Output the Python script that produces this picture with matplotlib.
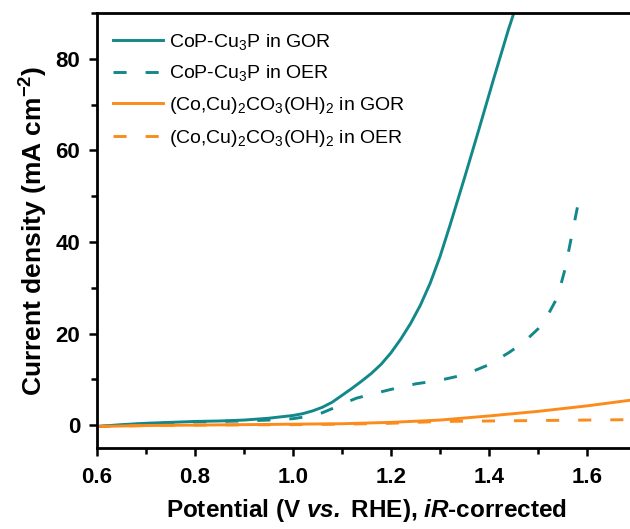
import numpy as np
import matplotlib
matplotlib.use("Agg")
import matplotlib.pyplot as plt
from matplotlib.ticker import MultipleLocator, FormatStrFormatter

plt.rcParams["font.family"] = ["Liberation Sans", "DejaVu Sans"]
plt.rcParams["font.weight"] = "bold"
plt.rcParams["xtick.labelsize"] = 16
plt.rcParams["ytick.labelsize"] = 16
plt.rcParams["mathtext.fontset"] = "custom"
plt.rcParams["mathtext.rm"] = "Liberation Sans"
plt.rcParams["mathtext.it"] = "Liberation Sans:italic"
plt.rcParams["mathtext.bf"] = "Liberation Sans:bold"
plt.rcParams["mathtext.bfit"] = "Liberation Sans:italic:bold"
plt.rcParams["mathtext.default"] = "regular"

# CoP-Cu3P in GOR
cop_gor_x = [0.60, 0.65, 0.70, 0.75, 0.80, 0.85, 0.90, 0.95, 1.00, 1.02, 1.04, 1.06,
             1.08, 1.10, 1.12, 1.14, 1.16, 1.18, 1.20, 1.22, 1.24, 1.26, 1.28, 1.30,
             1.32, 1.35, 1.38, 1.41, 1.44, 1.46]
cop_gor_y = [-0.3, 0.1, 0.4, 0.6, 0.8, 0.9, 1.1, 1.5, 2.1, 2.5, 3.1, 3.9,
             5.0, 6.5, 8.0, 9.6, 11.3, 13.3, 15.8, 18.8, 22.2, 26.2, 31.0, 36.8,
             43.5, 54.0, 64.8, 75.8, 86.5, 93.0]

# CoP-Cu3P in OER
cop_oer_x = [0.60, 0.70, 0.80, 0.90, 0.95, 1.00, 1.03, 1.06, 1.08, 1.10, 1.13, 1.17,
             1.20, 1.25, 1.30, 1.35, 1.40, 1.44, 1.47, 1.50, 1.52, 1.54, 1.555, 1.57,
             1.585]
cop_oer_y = [-0.3, 0.3, 0.7, 0.9, 1.1, 1.4, 1.9, 2.7, 3.6, 4.6, 5.9, 7.0,
             7.8, 9.0, 9.8, 11.0, 13.2, 15.8, 18.0, 21.0, 24.0, 28.0, 34.0, 42.0,
             50.0]

# (Co,Cu)2CO3(OH)2 in GOR / OER
cc_x = [0.60, 0.70, 0.80, 0.90, 1.00, 1.10, 1.20, 1.30, 1.40, 1.50, 1.60, 1.70]
cc_gor_y = [-0.3, -0.1, 0.0, 0.1, 0.2, 0.3, 0.6, 1.1, 2.0, 3.0, 4.2, 5.6]
cc_oer_y = [-0.3, -0.1, 0.0, 0.05, 0.1, 0.2, 0.4, 0.8, 0.9, 1.0, 1.1, 1.2]

teal = "#12888a"
orange = "#fb8c1c"

fig = plt.figure(figsize=(6.30, 5.29), dpi=100)
ax = fig.add_axes([97 / 630, 81 / 529, 539 / 630, 435 / 529])

dash = (4.5, 6.5)
kw = dict(lw=2.1, solid_joinstyle="round", dash_capstyle="butt")
ax.plot(cop_gor_x, cop_gor_y, color=teal, label="CoP-Cu$_3$P in GOR", **kw)
ax.plot(cop_oer_x, cop_oer_y, color=teal, dashes=dash,
        label="CoP-Cu$_3$P in OER", **kw)
ax.plot(cc_x, cc_gor_y, color=orange,
        label="(Co,Cu)$_2$CO$_3$(OH)$_2$ in GOR", **kw)
ax.plot(cc_x, cc_oer_y, color=orange, dashes=dash,
        label="(Co,Cu)$_2$CO$_3$(OH)$_2$ in OER", **kw)

ax.set_xlim(0.6, 1.7)
ax.set_ylim(-5, 90)
ax.xaxis.set_major_locator(MultipleLocator(0.2))
ax.xaxis.set_minor_locator(MultipleLocator(0.1))
ax.yaxis.set_major_locator(MultipleLocator(20))
ax.yaxis.set_minor_locator(MultipleLocator(10))
ax.xaxis.set_major_formatter(FormatStrFormatter("%.1f"))

for s in ax.spines.values():
    s.set_linewidth(2)
ax.tick_params(which="major", length=6, width=1.8, direction="out")
ax.tick_params(axis="x", which="major", pad=8)
ax.tick_params(axis="y", which="major", pad=6)
ax.tick_params(which="minor", length=4, width=1.8, direction="out")

ax.set_xlabel(r"Potential (V $\mathbfit{vs.}$ RHE), $\mathbfit{iR}$-corrected",
              fontsize=17.5, fontweight="bold", labelpad=6)
ax.set_ylabel(r"Current density (mA cm$^{\mathbf{-2}}$)", fontsize=19,
              fontweight="bold", labelpad=4)

ax.legend(loc="upper left", bbox_to_anchor=(0.015, 0.975), frameon=False,
          prop={"size": 14, "weight": "normal"}, handlelength=2.6,
          handletextpad=0.3, labelspacing=0.6, borderaxespad=0)

fig.savefig("out.png", dpi=100)
